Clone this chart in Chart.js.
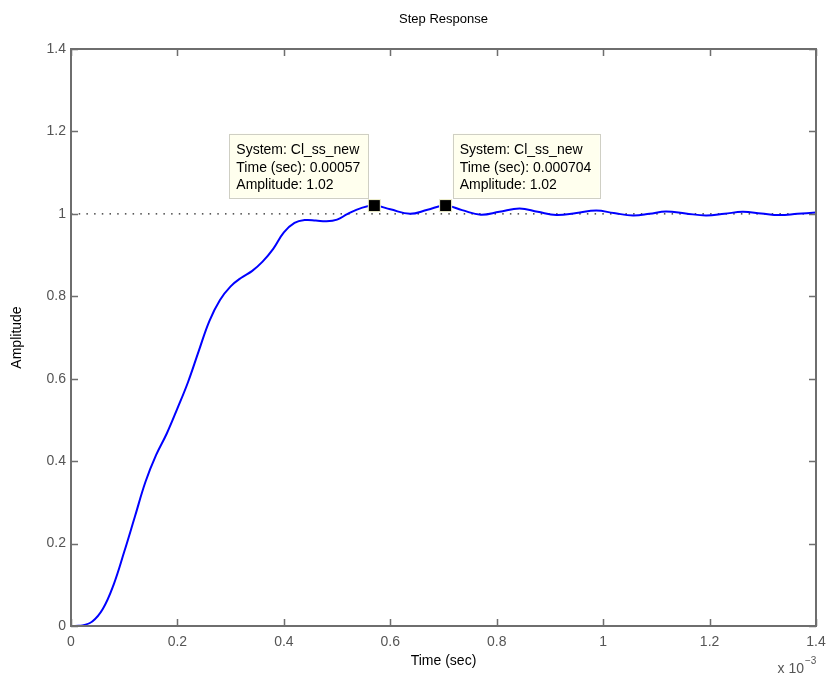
<!DOCTYPE html>
<html><head><meta charset="utf-8">
<script src="https://cdn.jsdelivr.net/npm/chart.js@4.4.1/dist/chart.umd.min.js"></script>
<style>html,body{margin:0;padding:0;background:#fff}canvas{display:block}</style>
</head><body>
<canvas id="c" width="830" height="680"></canvas>
<script>
// Time in units of 1e-3 s (axis shows "x 10^-3")
const timeMs = [0, 0.02, 0.04, 0.06, 0.08, 0.10, 0.12, 0.14, 0.16, 0.18, 0.20, 0.22, 0.24, 0.26, 0.28, 0.30, 0.32, 0.34, 0.36, 0.38, 0.40, 0.42, 0.44, 0.46, 0.48, 0.50, 0.52, 0.545, 0.57, 0.60, 0.637, 0.67, 0.704, 0.735, 0.77, 0.805, 0.843, 0.877, 0.912, 0.95, 0.987, 1.02, 1.056, 1.087, 1.118, 1.155, 1.193, 1.228, 1.262, 1.297, 1.331, 1.365, 1.40];
const amplitude = [0, 0.001, 0.011, 0.042, 0.10, 0.18, 0.265, 0.35, 0.415, 0.467, 0.528, 0.592, 0.667, 0.74, 0.791, 0.824, 0.845, 0.861, 0.884, 0.915, 0.955, 0.978, 0.985, 0.984, 0.982, 0.986, 1.0, 1.014, 1.02, 1.011, 1.0, 1.01, 1.02, 1.009, 0.998, 1.005, 1.013, 1.005, 0.997, 1.002, 1.008, 1.002, 0.996, 1.0, 1.006, 1.001, 0.996, 1.0, 1.005, 1.001, 0.997, 1.0, 1.003];
const refTime = [0, 1.4];
const refAmp = [1, 1];
const markerTime = [0.57, 0.704];
const markerAmp = [1.02, 1.02];
const tipSystem = ['Cl_ss_new', 'Cl_ss_new'];
const tipTime = ['0.00057', '0.000704'];
const tipAmp = ['1.02', '1.02'];
const tipSide = ['left', 'right'];
const xTicks = [0, 0.2, 0.4, 0.6, 0.8, 1.0, 1.2, 1.4];
const yTicks = [0, 0.2, 0.4, 0.6, 0.8, 1.0, 1.2, 1.4];
const chartTitle = 'Step Response';
const xTitle = 'Time (sec)';
const yTitle = 'Amplitude';
const xExponent = '\u22123';

const FONT = 'Liberation Sans, Arial, Helvetica, sans-serif';
Chart.defaults.font.family = FONT;

const fmt = v => String(+Number(v).toFixed(1));

const boxPlugin = {
  id: 'boxPlugin',
  afterDatasetsDraw(chart) {
    const {ctx, chartArea: a, scales: {x, y}} = chart;
    ctx.save();
    ctx.strokeStyle = '#6e6e6e';
    ctx.lineWidth = 2;
    ctx.strokeRect(a.left, a.top, a.right - a.left, a.bottom - a.top);
    ctx.lineWidth = 1.5;
    const L = 7;
    ctx.beginPath();
    xTicks.forEach(v => {
      const px = Math.round(x.getPixelForValue(v)) + 0.5;
      ctx.moveTo(px, a.bottom); ctx.lineTo(px, a.bottom - L);
      ctx.moveTo(px, a.top); ctx.lineTo(px, a.top + L);
    });
    yTicks.forEach(v => {
      const py = Math.round(y.getPixelForValue(v)) + 0.5;
      ctx.moveTo(a.left, py); ctx.lineTo(a.left + L, py);
      ctx.moveTo(a.right, py); ctx.lineTo(a.right - L, py);
    });
    ctx.stroke();
    // exponent label
    ctx.fillStyle = '#555';
    ctx.textBaseline = 'alphabetic';
    ctx.font = '14px ' + FONT;
    ctx.textAlign = 'right';
    ctx.fillText('x 10', a.right - 12, a.bottom + 47);
    ctx.font = '10px ' + FONT;
    ctx.textAlign = 'left';
    ctx.fillText(xExponent, a.right - 11, a.bottom + 38);
    ctx.restore();
  },
  afterDraw(chart) {
    const {ctx} = chart;
    const meta = chart.getDatasetMeta(0);
    ctx.save();
    ctx.font = '14px ' + FONT;
    meta.data.forEach((pt, i) => {
      const lines = ['System: ' + tipSystem[i], 'Time (sec): ' + tipTime[i], 'Amplitude: ' + tipAmp[i]];
      const w = Math.ceil(Math.max(...lines.map(s => ctx.measureText(s).width))) + 15;
      const h = 64;
      const bx = tipSide[i] === 'left' ? pt.x - 6 - w : pt.x + 7;
      const by = pt.y - 8 - h;
      ctx.fillStyle = '#ffffee';
      ctx.fillRect(bx, by, w, h);
      ctx.strokeStyle = '#cfcfc4';
      ctx.lineWidth = 1;
      ctx.strokeRect(Math.round(bx) + 0.5, Math.round(by) + 0.5, Math.round(w), h);
      ctx.fillStyle = '#000';
      ctx.textAlign = 'left';
      ctx.textBaseline = 'middle';
      lines.forEach((s, k) => ctx.fillText(s, bx + 7, by + 17 + k * 17.5));
    });
    ctx.restore();
  }
};

new Chart(document.getElementById('c'), {
  type: 'line',
  data: {
    datasets: [
      {
        data: markerTime.map((t, i) => ({x: t, y: markerAmp[i]})),
        showLine: false,
        pointStyle: 'rect',
        pointRadius: 8.5,
        backgroundColor: '#000',
        borderColor: '#f4f4d0',
        borderWidth: 1
      },
      {
        data: timeMs.map((t, i) => ({x: t, y: amplitude[i]})),
        borderColor: '#0000ff',
        borderWidth: 2,
        pointRadius: 0,
        tension: 0.4,
        fill: false
      },
      {
        data: refTime.map((t, i) => ({x: t, y: refAmp[i]})),
        borderColor: '#222',
        borderWidth: 1.2,
        borderDash: [1.5, 6.2],
        pointRadius: 0,
        fill: false
      }
    ]
  },
  options: {
    responsive: false,
    animation: false,
    events: [],
    layout: {padding: {top: 0, right: 14, bottom: 0, left: 0}},
    plugins: {
      legend: {display: false},
      tooltip: {enabled: false},
      title: {
        display: true,
        text: chartTitle,
        fullSize: false,
        color: '#000',
        font: {size: 13, weight: 'normal', family: FONT},
        padding: {top: 12, bottom: 21.4}
      }
    },
    scales: {
      x: {
        type: 'linear',
        min: 0, max: 1.4,
        afterBuildTicks: s => { s.ticks = xTicks.map(v => ({value: v})); },
        afterFit: s => { s.height = 54; s.paddingLeft = 0; s.paddingRight = 0; },
        grid: {display: false, drawTicks: false},
        border: {display: false},
        ticks: {color: '#555', font: {size: 14}, padding: 8, maxRotation: 0, autoSkip: false, callback: fmt},
        title: {display: true, text: xTitle, color: '#000', font: {size: 14}, padding: {top: 0, bottom: 10}}
      },
      y: {
        type: 'linear',
        min: 0, max: 1.4,
        afterBuildTicks: s => { s.ticks = yTicks.map(v => ({value: v})); },
        afterFit: s => { s.width = 71; },
        grid: {display: false, drawTicks: false},
        border: {display: false},
        ticks: {color: '#555', font: {size: 14}, padding: 5, autoSkip: false, callback: fmt},
        title: {display: true, text: yTitle, color: '#000', font: {size: 14}, padding: {top: 9, bottom: 0}}
      }
    }
  },
  plugins: [boxPlugin]
});
</script>
</body></html>
